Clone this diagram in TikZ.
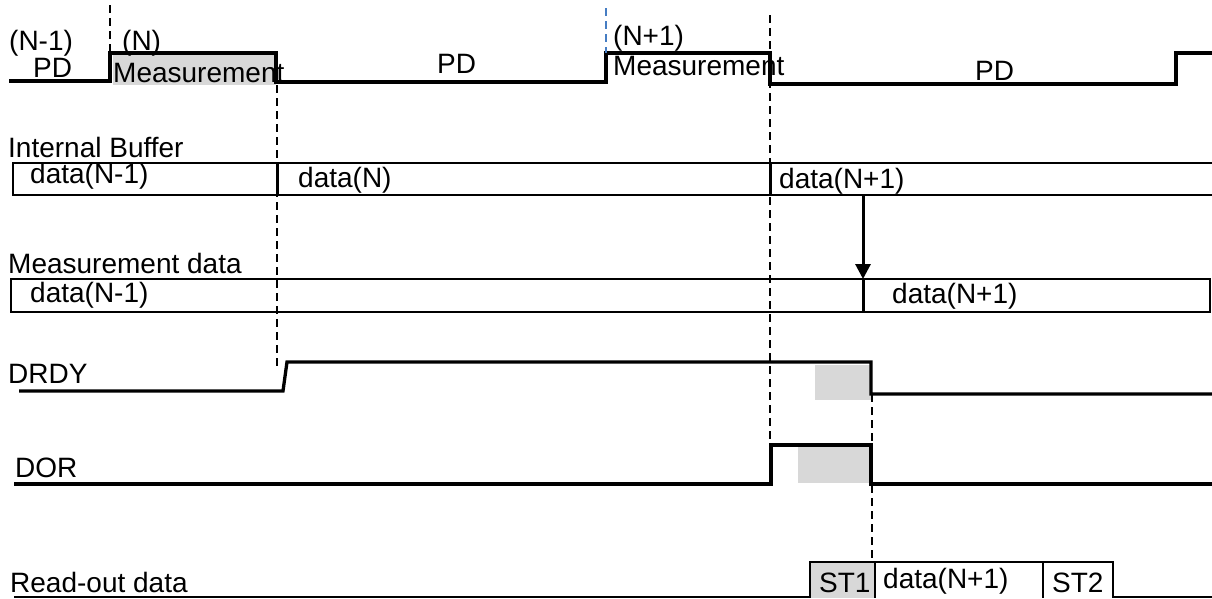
\documentclass[tikz,border=0pt]{standalone}
\usepackage{fontspec}
\setmainfont{Liberation Sans}
\usetikzlibrary{arrows.meta}
\definecolor{guideblue}{RGB}{70,125,195}
\definecolor{shadegray}{RGB}{216,216,216}
\begin{document}
\begin{tikzpicture}[x=1pt,y=-1pt,
  sig/.style={line width=3.3pt, line join=miter},
  bx/.style={line width=2.2pt},
  divider/.style={line width=3pt},
  thinbase/.style={line width=1.6pt},
  guide/.style={line width=1.4pt, dash pattern=on 8pt off 5pt},
  lbl/.style={anchor=base west, inner sep=0pt, font=\fontsize{28}{31}\selectfont},
  shade/.style={fill=shadegray, draw=none}]
\useasboundingbox (0,0) rectangle (1212,598);

% ---- shaded areas
\fill[shade] (113,55) rectangle (276,85);
\fill[shade] (815,365) rectangle (871,400);
\fill[shade] (798,447) rectangle (871,483);
\fill[shade] (810,562) rectangle (875,598);

% ---- top signal (PD / Measurement)
\draw[sig] (9,81) -- (110,81) -- (110,53) -- (276,53) -- (276,82) -- (606,82)
  -- (606,53) -- (770,53) -- (770,84) -- (1176,84) -- (1176,53) -- (1212,53);

% ---- guide lines
\draw[guide] (110,5) -- (110,53);
\draw[guide, guideblue] (606,8) -- (606,53);
\draw[guide] (277,85) -- (277,368);
\draw[guide] (770,15) -- (770,445);
\draw[guide] (872,394) -- (872,560);

% ---- internal buffer
\draw[bx] (1212,163) -- (13,163) -- (13,195) -- (1212,195);
\draw[divider] (277,163) -- (277,195);
\draw[divider] (770,163) -- (770,195);
\coordinate (bufout) at (863,195);

% ---- measurement data
\draw[bx] (11,279) rectangle (1210,312);
\draw[divider] (863,279) -- (863,312);
\coordinate (measin) at (863,279);

\draw[line width=3pt, -{Triangle[length=15pt,width=15pt]}] (bufout) -- (measin);

% ---- DRDY
\draw[sig] (19,391) -- (283,391) -- (287,362) -- (871,362) -- (871,394) -- (1212,394);

% ---- DOR
\draw[sig] (14,484) -- (771,484) -- (771,445) -- (871,445) -- (871,484) -- (1212,484);

% ---- read-out data
\draw[thinbase] (14,597) -- (810,597);
\draw[bx] (810,598) -- (810,562) -- (1113,562) -- (1113,598);
\draw[bx] (875,562) -- (875,598);
\draw[bx] (1043,562) -- (1043,598);
\draw[thinbase] (1113,597) -- (1212,597);

% ---- texts
\node[lbl] (nm1) at (9,50) {(N-1)};
\node[lbl] (pd1) at (33,77) {PD};
\node[lbl] (nn) at (122,50) {(N)};
\node[lbl] (meas1) at (113,82) {Measurement};
\node[lbl] (pd2) at (437,73) {PD};
\node[lbl] (np1) at (613,45) {(N+1)};
\node[lbl] (meas2) at (613,75) {Measurement};
\node[lbl] (pd3) at (975,80) {PD};

\node[lbl] (ibuf) at (8,157) {Internal Buffer};
\node[lbl] (ib1) at (30,183) {data(N-1)};
\node[lbl] (ib2) at (298,187) {data(N)};
\node[lbl] (ib3) at (779,188) {data(N+1)};

\node[lbl] (mdat) at (8,273) {Measurement data};
\node[lbl] (md1) at (30,302) {data(N-1)};
\node[lbl] (md2) at (892,303) {data(N+1)};

\node[lbl] (drdy) at (8,383) {DRDY};
\node[lbl] (dor) at (15,477) {DOR};

\node[lbl] (rod) at (10,592) {Read-out data};
\node[lbl] (st1) at (819,592) {ST1};
\node[lbl] (rd1) at (883,588) {data(N+1)};
\node[lbl] (st2) at (1052,592) {ST2};
\end{tikzpicture}
\end{document}
